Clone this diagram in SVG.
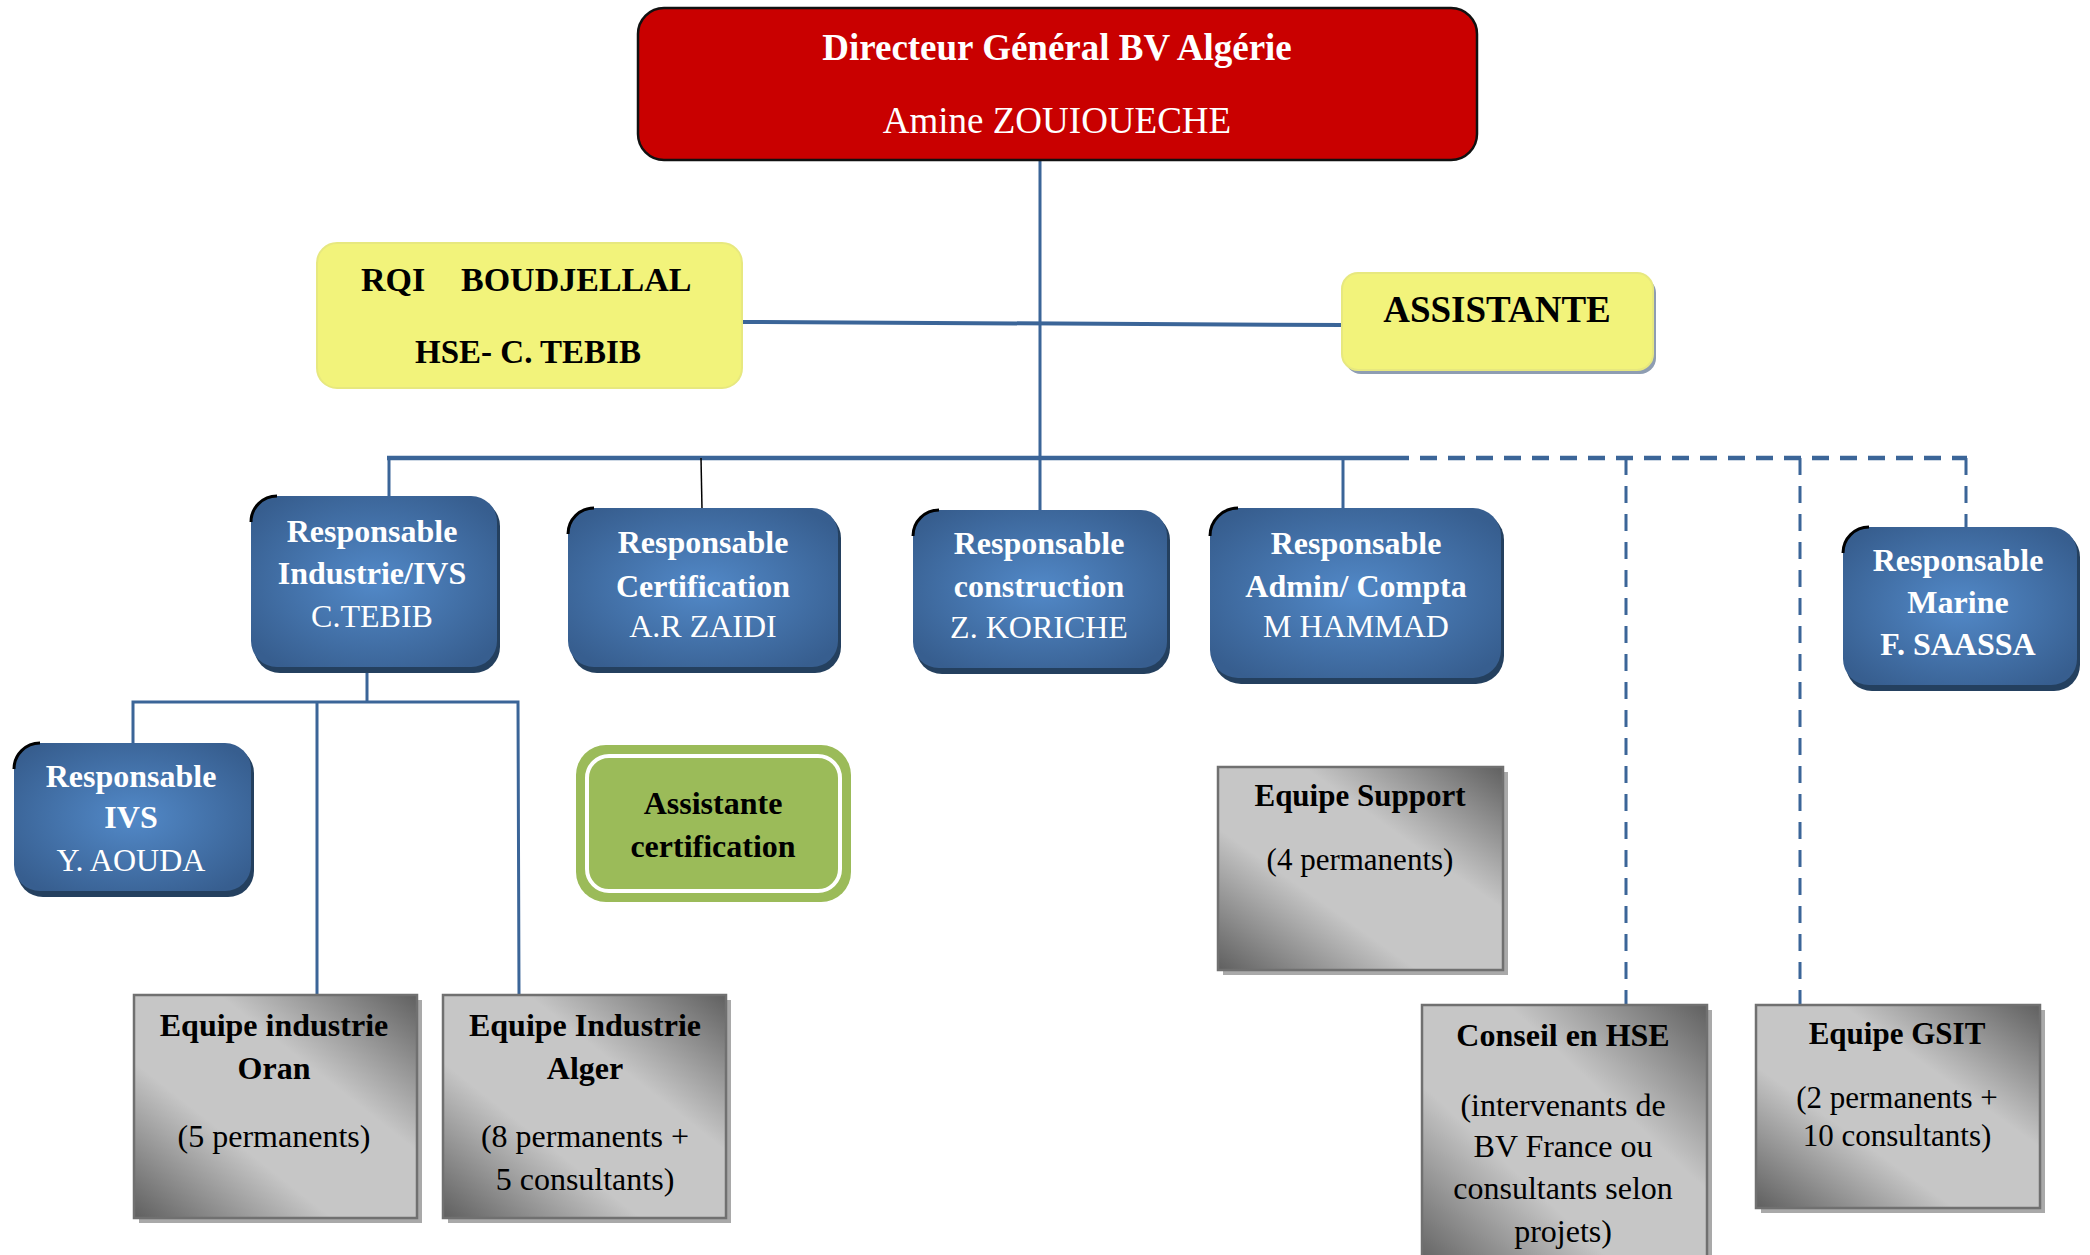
<svg xmlns="http://www.w3.org/2000/svg" width="2090" height="1255" viewBox="0 0 2090 1255">
<style>
.t{font-family:"Liberation Serif","Times New Roman",serif;text-anchor:middle}
.b{font-weight:bold}
.w{fill:#ffffff}
.k{fill:#000000}
.s32{font-size:32px}
.s31{font-size:31px}
.con{stroke:#3b6598;fill:none}
.dash{stroke-dasharray:17 11}
.blue{fill:url(#gb)}
.bsh{fill:#24405f}
.gray{fill:url(#gg);stroke:#707070;stroke-width:2.5}
.gsh{fill:#a9a9a9}
.yel{fill:#f2f37b;stroke:#e7e87f;stroke-width:2}
.ink{fill:none;stroke:#000;stroke-width:3}
</style>
<defs>
<radialGradient id="gb" cx="50%" cy="50%" r="62%">
<stop offset="0" stop-color="#5289c8"/>
<stop offset="1" stop-color="#375e8f"/>
</radialGradient>
<linearGradient id="gg" x1="0" y1="1" x2="1" y2="0">
<stop offset="0" stop-color="#5f5f5f"/>
<stop offset="0.35" stop-color="#c6c6c6"/>
<stop offset="0.65" stop-color="#c6c6c6"/>
<stop offset="1" stop-color="#606060"/>
</linearGradient>
</defs>
<rect width="2090" height="1255" fill="#ffffff"/>

<g id="connectors">
<line class="con" x1="1040" y1="160" x2="1040" y2="510" stroke-width="3"/>
<line class="con" x1="742" y1="322" x2="1343" y2="325" stroke-width="4"/>
<line class="con" x1="387" y1="458" x2="1409" y2="458" stroke-width="4.5"/>
<line class="con dash" x1="1409" y1="458" x2="1967" y2="458" stroke-width="4.5" stroke-dashoffset="17"/>
<line class="con" x1="389" y1="458" x2="389" y2="497" stroke-width="3"/>
<line x1="701" y1="458" x2="702" y2="509" stroke="#000" stroke-width="1.5"/>
<line class="con" x1="1343" y1="458" x2="1343" y2="509" stroke-width="3"/>
<line class="con dash" x1="1626" y1="458" x2="1626" y2="1004" stroke-width="3"/>
<line class="con dash" x1="1800" y1="458" x2="1800" y2="1004" stroke-width="3"/>
<line class="con dash" x1="1966" y1="458" x2="1966" y2="527" stroke-width="3"/>
<line class="con" x1="367" y1="669" x2="367" y2="702" stroke-width="3"/>
<polyline class="con" points="133,743 133,702 518,702 519,995" stroke-width="3"/>
<line class="con" x1="317" y1="702" x2="317" y2="995" stroke-width="3"/>
</g>

<g id="n-dg">
<rect x="638" y="8" width="839" height="152" rx="26" fill="#c90000" stroke="#111" stroke-width="2.5"/>
<text class="t b w" x="1057" y="60" font-size="37">Directeur Général BV Algérie</text>
<text class="t w" x="1057" y="133" font-size="37">Amine ZOUIOUECHE</text>
</g>

<g id="n-rqi">
<rect class="yel" x="317" y="243" width="425" height="145" rx="20"/>
<text class="b k" x="361" y="291" font-size="34" font-family="Liberation Serif, serif"><tspan x="361">RQI</tspan><tspan x="461">BOUDJELLAL</tspan></text>
<text class="t b k" x="528" y="363" font-size="33">HSE- C. TEBIB</text>
</g>

<g id="n-assistante">
<rect x="1345" y="277" width="311" height="97" rx="16" fill="#8e9db2"/>
<rect class="yel" x="1342" y="273" width="311" height="97" rx="16"/>
<text class="t b k" x="1497" y="322" font-size="37">ASSISTANTE</text>
</g>

<g id="n-industrie">
<rect class="bsh" x="254" y="500" width="246" height="173" rx="26"/>
<rect class="blue" x="251" y="496" width="246" height="171" rx="26"/>
<path class="ink" d="M251,522 A26,26 0 0 1 277,496"/>
<text class="t b w s32" x="372" y="542">Responsable</text>
<text class="t b w s32" x="372" y="584">Industrie/IVS</text>
<text class="t w s32" x="372" y="627">C.TEBIB</text>
</g>

<g id="n-certification">
<rect class="bsh" x="571" y="512" width="270" height="161" rx="26"/>
<rect class="blue" x="568" y="508" width="270" height="159" rx="26"/>
<path class="ink" d="M568,534 A26,26 0 0 1 594,508"/>
<text class="t b w s32" x="703" y="553">Responsable</text>
<text class="t b w s32" x="703" y="597">Certification</text>
<text class="t w s32" x="703" y="637">A.R ZAIDI</text>
</g>

<g id="n-construction">
<rect class="bsh" x="916" y="514" width="254" height="160" rx="26"/>
<rect class="blue" x="913" y="510" width="254" height="158" rx="26"/>
<path class="ink" d="M913,536 A26,26 0 0 1 939,510"/>
<text class="t b w s32" x="1039" y="554">Responsable</text>
<text class="t b w s32" x="1039" y="597">construction</text>
<text class="t w s32" x="1039" y="638">Z. KORICHE</text>
</g>

<g id="n-admin">
<rect class="bsh" x="1213" y="512" width="291" height="172" rx="28"/>
<rect class="blue" x="1210" y="508" width="291" height="170" rx="28"/>
<path class="ink" d="M1210,536 A28,28 0 0 1 1238,508"/>
<text class="t b w s32" x="1356" y="554">Responsable</text>
<text class="t b w s32" x="1356" y="597">Admin/ Compta</text>
<text class="t w s32" x="1356" y="637">M HAMMAD</text>
</g>

<g id="n-marine">
<rect class="bsh" x="1846" y="531" width="234" height="160" rx="26"/>
<rect class="blue" x="1843" y="527" width="234" height="158" rx="26"/>
<path class="ink" d="M1843,553 A26,26 0 0 1 1869,527"/>
<text class="t b w s32" x="1958" y="571">Responsable</text>
<text class="t b w s32" x="1958" y="613">Marine</text>
<text class="t b w s32" x="1958" y="655">F. SAASSA</text>
</g>

<g id="n-ivs">
<rect class="bsh" x="17" y="747" width="237" height="150" rx="26"/>
<rect class="blue" x="14" y="743" width="237" height="148" rx="26"/>
<path class="ink" d="M14,769 A26,26 0 0 1 40,743"/>
<text class="t b w s32" x="131" y="787">Responsable</text>
<text class="t b w s32" x="131" y="828">IVS</text>
<text class="t w s32" x="131" y="871">Y. AOUDA</text>
</g>

<g id="n-assist-cert">
<rect x="576" y="745" width="275" height="157" rx="30" fill="#9bbb59"/>
<rect x="587" y="756" width="253" height="135" rx="22" fill="#9bbb59" stroke="#ffffff" stroke-width="4"/>
<text class="t b k s32" x="713" y="814">Assistante</text>
<text class="t b k s32" x="713" y="857">certification</text>
</g>

<g id="n-oran">
<rect class="gsh" x="139" y="1000" width="283" height="223"/>
<rect class="gray" x="134" y="995" width="283" height="223"/>
<text class="t b k s32" x="274" y="1036">Equipe industrie</text>
<text class="t b k s32" x="274" y="1079">Oran</text>
<text class="t k s32" x="274" y="1147">(5 permanents)</text>
</g>

<g id="n-alger">
<rect class="gsh" x="448" y="1000" width="283" height="223"/>
<rect class="gray" x="443" y="995" width="283" height="223"/>
<text class="t b k s32" x="585" y="1036">Equipe Industrie</text>
<text class="t b k s32" x="585" y="1079">Alger</text>
<text class="t k s32" x="585" y="1147">(8 permanents +</text>
<text class="t k s32" x="585" y="1190">5 consultants)</text>
</g>

<g id="n-support">
<rect class="gsh" x="1223" y="772" width="285" height="203"/>
<rect class="gray" x="1218" y="767" width="285" height="203"/>
<text class="t b k s31" x="1360" y="806">Equipe Support</text>
<text class="t k s31" x="1360" y="870">(4 permanents)</text>
</g>

<g id="n-conseil">
<rect class="gsh" x="1427" y="1010" width="285" height="260"/>
<rect class="gray" x="1422" y="1005" width="285" height="265"/>
<text class="t b k s32" x="1563" y="1046">Conseil en HSE</text>
<text class="t k s32" x="1563" y="1116">(intervenants de</text>
<text class="t k s32" x="1563" y="1157">BV France ou</text>
<text class="t k s32" x="1563" y="1199">consultants selon</text>
<text class="t k s32" x="1563" y="1242">projets)</text>
</g>

<g id="n-gsit">
<rect class="gsh" x="1761" y="1010" width="284" height="203"/>
<rect class="gray" x="1756" y="1005" width="284" height="203"/>
<text class="t b k s31" x="1897" y="1044">Equipe GSIT</text>
<text class="t k s31" x="1897" y="1108">(2 permanents +</text>
<text class="t k s31" x="1897" y="1146">10 consultants)</text>
</g>
</svg>
